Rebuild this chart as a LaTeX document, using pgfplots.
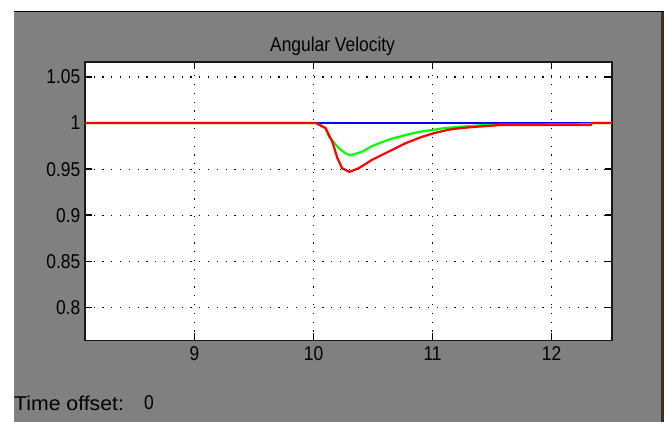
\documentclass[border=0pt]{standalone}
\usepackage{pgfplots}
\pgfplotsset{compat=1.18}
\usepackage{fontspec}
\setmainfont{Liberation Sans}[FakeStretch=0.87]
\definecolor{scopegray}{RGB}{128,128,128}
\definecolor{edgebrown}{RGB}{70,45,30}
\definecolor{sblue}{RGB}{0,0,255}
\definecolor{sgreen}{RGB}{0,255,0}
\definecolor{sred}{RGB}{255,0,0}
\begin{document}
\begin{tikzpicture}[x=1pt,y=1pt]
\fill[white] (0,0) rectangle (664,422);
\fill[scopegray] (14,0) rectangle (661,410.5);
\fill[edgebrown] (661,0) rectangle (664,410.5);
\draw[black, line width=1pt] (14,410.5) -- (664,410.5);
\begin{axis}[
  at={(71.3,88.5)}, anchor=south west,
  scale only axis, width=527.4pt, height=278.2pt,
  xmin=8.078, xmax=12.51, ymin=0.764, ymax=1.066,
  axis background/.style={fill=white},
  axis line style={line width=1.8pt, black!90},
  xtick={9,10,11,12},
  ytick={0.8,0.85,0.9,0.95,1,1.05},
  yticklabels={0.8,0.85,0.9,0.95,1,1.05},
  xticklabels={9,10,11,12},
  tick align=inside,
  major tick length=7pt,
  tick style={line width=1.4pt, black},
  grid=major,
  major grid style={black, line width=1.2pt, dash pattern=on 1.2pt off 7.6pt},
  ticklabel style={font=\fontsize{20}{22}\selectfont, text=black},
  xticklabel style={yshift=-3pt},
  yticklabel style={xshift=-1pt},
  title={Angular Velocity},
  title style={font=\fontsize{20}{22}\selectfont, anchor=center, at={(0.5,1)}, xshift=-16pt, yshift=10pt},
]
\addplot[sblue, line width=2.2pt] coordinates {(8.078,1) (12.51,1)};
\addplot[sgreen, line width=2.2pt] coordinates {
(8.078,1) (10.0,1) (10.02,1) (10.10,0.9946) (10.13,0.985) (10.157,0.981)
(10.21,0.973) (10.27,0.967) (10.31,0.965) (10.41,0.969) (10.49,0.975)
(10.63,0.982) (10.77,0.987) (10.91,0.991) (11.01,0.9927) (11.10,0.9946)
(11.24,0.996) (11.45,0.998) (12.2,0.9985) (12.33,0.999) (12.34,1) (12.51,1)};
\addplot[sred, line width=2.2pt] coordinates {
(8.078,1) (10.0,1) (10.02,1) (10.10,0.9946) (10.157,0.980) (10.20,0.962)
(10.24,0.951) (10.30,0.947) (10.38,0.951) (10.49,0.960) (10.63,0.969)
(10.77,0.978) (10.91,0.985) (11.01,0.989) (11.13,0.9927) (11.24,0.9946)
(11.37,0.996) (11.59,0.998) (12.33,0.998) (12.34,1) (12.51,1)};
\end{axis}
\node[anchor=west, inner sep=0pt, font=\fontsize{20}{22}\selectfont] at (14,19) {\scalebox{1.22}[1]{Time offset:}};
\node[anchor=west, inner sep=0pt, font=\fontsize{20}{22}\selectfont] at (144,19) {0};
\pgfresetboundingbox
\useasboundingbox (0,0) rectangle (664,422);
\end{tikzpicture}
\end{document}
